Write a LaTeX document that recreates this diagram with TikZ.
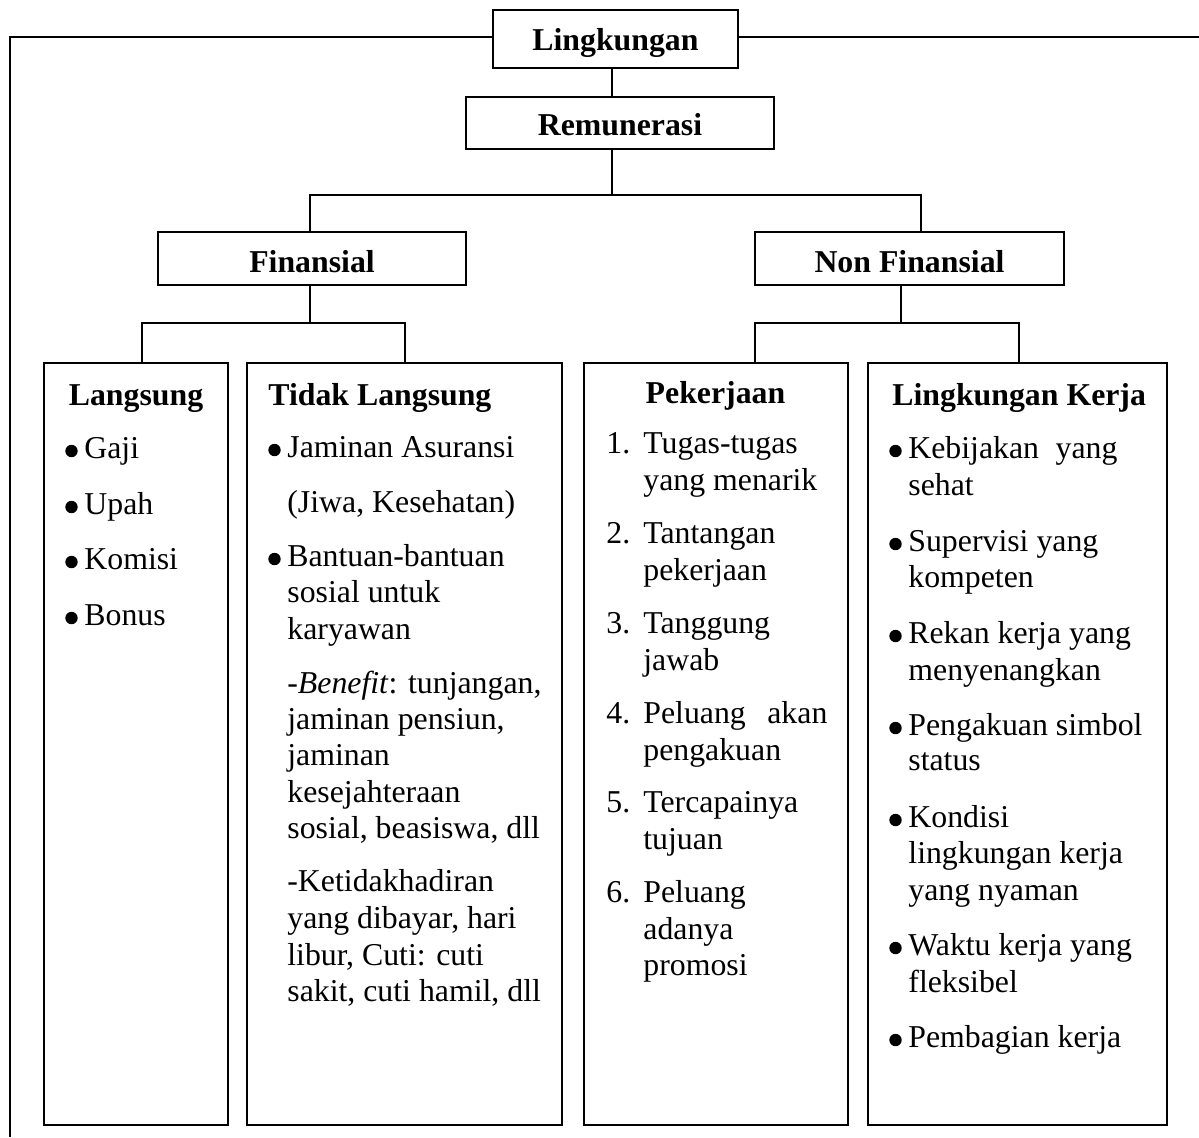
\documentclass[tikz,border=0pt]{standalone}
\usepackage{fontspec}
\setmainfont{Liberation Serif}
\usetikzlibrary{fit,calc}
\newcommand\fs{\fontsize{15.9pt}{18.3pt}\selectfont}
\newcommand\num[1]{\makebox[18.5pt][l]{#1}}
\newcommand\dotat[2]{\fill ($(#1,#2)+(-12.5,-7)$) circle (3.1pt);}
\tikzset{
  box/.style={draw, line width=1pt, inner sep=0pt},
  conn/.style={line width=1pt},
  topbox/.style={box, font=\fs\bfseries, text depth=0pt},
  txt/.style={anchor=base west, inner sep=0pt, font=\fs},
  ttl/.style={anchor=base, inner sep=0pt, font=\fs\bfseries},
}
\begin{document}
\begin{tikzpicture}[x=0.5pt,y=-0.5pt]
\useasboundingbox (0,0) rectangle (1199,1137);
% top boxes
\node[topbox, minimum width=122.5pt, minimum height=29pt, text height=11pt] (L) at (615.5,39) {Lingkungan};
\node[topbox, minimum width=154pt, minimum height=26pt, text height=12pt] (R) at (620,123) {Remunerasi};
\node[topbox, minimum width=154pt, minimum height=26.5pt, text height=13.5pt] (F) at (312,258.5) {Finansial};
\node[topbox, minimum width=154.5pt, minimum height=26.5pt, text height=13.5pt] (NF) at (909.5,258.5) {Non Finansial};
% bottom boxes
\node[box, fit={(44,363) (228,1125)}] (B1) {};
\node[box, fit={(247,363) (562,1125)}] (B2) {};
\node[box, fit={(584,363) (848,1125)}] (B3) {};
\node[box, fit={(868,363) (1167,1125)}] (B4) {};
% outer frame
\coordinate (fl) at (10,1137);
\coordinate (fr) at (1199,37);
\draw[conn] (L.west |- fr) -| (fl);
\draw[conn] (L.east |- fr) -- (fr);
% connectors
\coordinate (j0) at (612,195);
\coordinate (jF) at (310,195);
\coordinate (jN) at (921,195);
\draw[conn] (L.south -| j0) -- (R.north -| j0);
\draw[conn] (R.south -| j0) -- (j0);
\draw[conn] (F.north -| jF) -- (jF) -- (jN) -- (NF.north -| jN);
\coordinate (cF) at (310,323);
\coordinate (c1) at (142,323);
\coordinate (c2) at (405,323);
\draw[conn] (F.south -| cF) -- (cF);
\draw[conn] (B1.north -| c1) -- (c1) -- (c2) -- (B2.north -| c2);
\coordinate (cN) at (901,323);
\coordinate (c3) at (755,323);
\coordinate (c4) at (1019,323);
\draw[conn] (NF.south -| cN) -- (cN);
\draw[conn] (B3.north -| c3) -- (c3) -- (c4) -- (B4.north -| c4);
% Langsung
\node[ttl] (hL) at (136,405) {Langsung};
\node[txt] (l1) at (84,458) {Gaji};
\node[txt] (l2) at (84,514) {Upah};
\node[txt] (l3) at (84,569) {Komisi};
\node[txt] (l4) at (84,625) {Bonus};
\dotat{84}{458}\dotat{84}{514}\dotat{84}{569}\dotat{84}{625}
% Tidak Langsung
\node[ttl, anchor=base west] (hT) at (268,405) {Tidak Langsung};
\node[txt] (t1) at (287,457) {Jaminan Asuransi};
\node[txt] (t2) at (287,512) {(Jiwa, Kesehatan)};
\node[txt] (t3) at (287,566) {Bantuan-bantuan};
\node[txt] (t4) at (287,602) {sosial untuk};
\node[txt] (t5) at (287,639) {karyawan};
\node[txt] (t6) at (287,693) {-\textit{Benefit}: tunjangan,};
\node[txt] (t7) at (287,729) {jaminan pensiun,};
\node[txt] (t8) at (287,765) {jaminan};
\node[txt] (t9) at (287,802) {kesejahteraan};
\node[txt] (t10) at (287,838) {sosial, beasiswa, dll};
\node[txt] (t11) at (287,891) {-Ketidakhadiran};
\node[txt] (t12) at (287,928) {yang dibayar, hari};
\node[txt] (t13) at (287,965) {libur, Cuti: cuti};
\node[txt] (t14) at (287,1001) {sakit, cuti hamil, dll};
\dotat{287}{457}\dotat{287}{566}
% Pekerjaan
\node[ttl] (hP) at (715.5,403) {Pekerjaan};
\node[txt] (p1) at (606,453) {\num{1.}Tugas-tugas};
\node[txt] (p2) at (643,490) {yang menarik};
\node[txt] (p3) at (606,543) {\num{2.}Tantangan};
\node[txt] (p4) at (643,580) {pekerjaan};
\node[txt] (p5) at (606,633) {\num{3.}Tanggung};
\node[txt] (p6) at (643,670) {jawab};
\node[txt] (p7) at (606,723) {\num{4.}\makebox[92pt][s]{Peluang akan}};
\node[txt] (p8) at (643,760) {pengakuan};
\node[txt] (p9) at (606,812) {\num{5.}Tercapainya};
\node[txt] (p10) at (643,849) {tujuan};
\node[txt] (p11) at (606,902) {\num{6.}Peluang};
\node[txt] (p12) at (643,939) {adanya};
\node[txt] (p13) at (643,975) {promosi};
% Lingkungan Kerja
\node[ttl, anchor=base west] (hK) at (892,405) {Lingkungan Kerja};
\node[txt] (k1) at (908,458) {\makebox[104.5pt][s]{Kebijakan yang}};
\node[txt] (k2) at (908,495) {sehat};
\node[txt] (k3) at (908,551) {Supervisi yang};
\node[txt] (k4) at (908,587) {kompeten};
\node[txt] (k5) at (908,643) {Rekan kerja yang};
\node[txt] (k6) at (908,680) {menyenangkan};
\node[txt] (k7) at (908,735) {Pengakuan simbol};
\node[txt] (k8) at (908,770) {status};
\node[txt] (k9) at (908,827) {Kondisi};
\node[txt] (k10) at (908,863) {lingkungan kerja};
\node[txt] (k11) at (908,900) {yang nyaman};
\node[txt] (k12) at (908,955) {Waktu kerja yang};
\node[txt] (k13) at (908,992) {fleksibel};
\node[txt] (k14) at (908,1047) {Pembagian kerja};
\dotat{908}{458}\dotat{908}{551}\dotat{908}{643}\dotat{908}{735}\dotat{908}{827}\dotat{908}{955}\dotat{908}{1047}
\end{tikzpicture}
\end{document}
